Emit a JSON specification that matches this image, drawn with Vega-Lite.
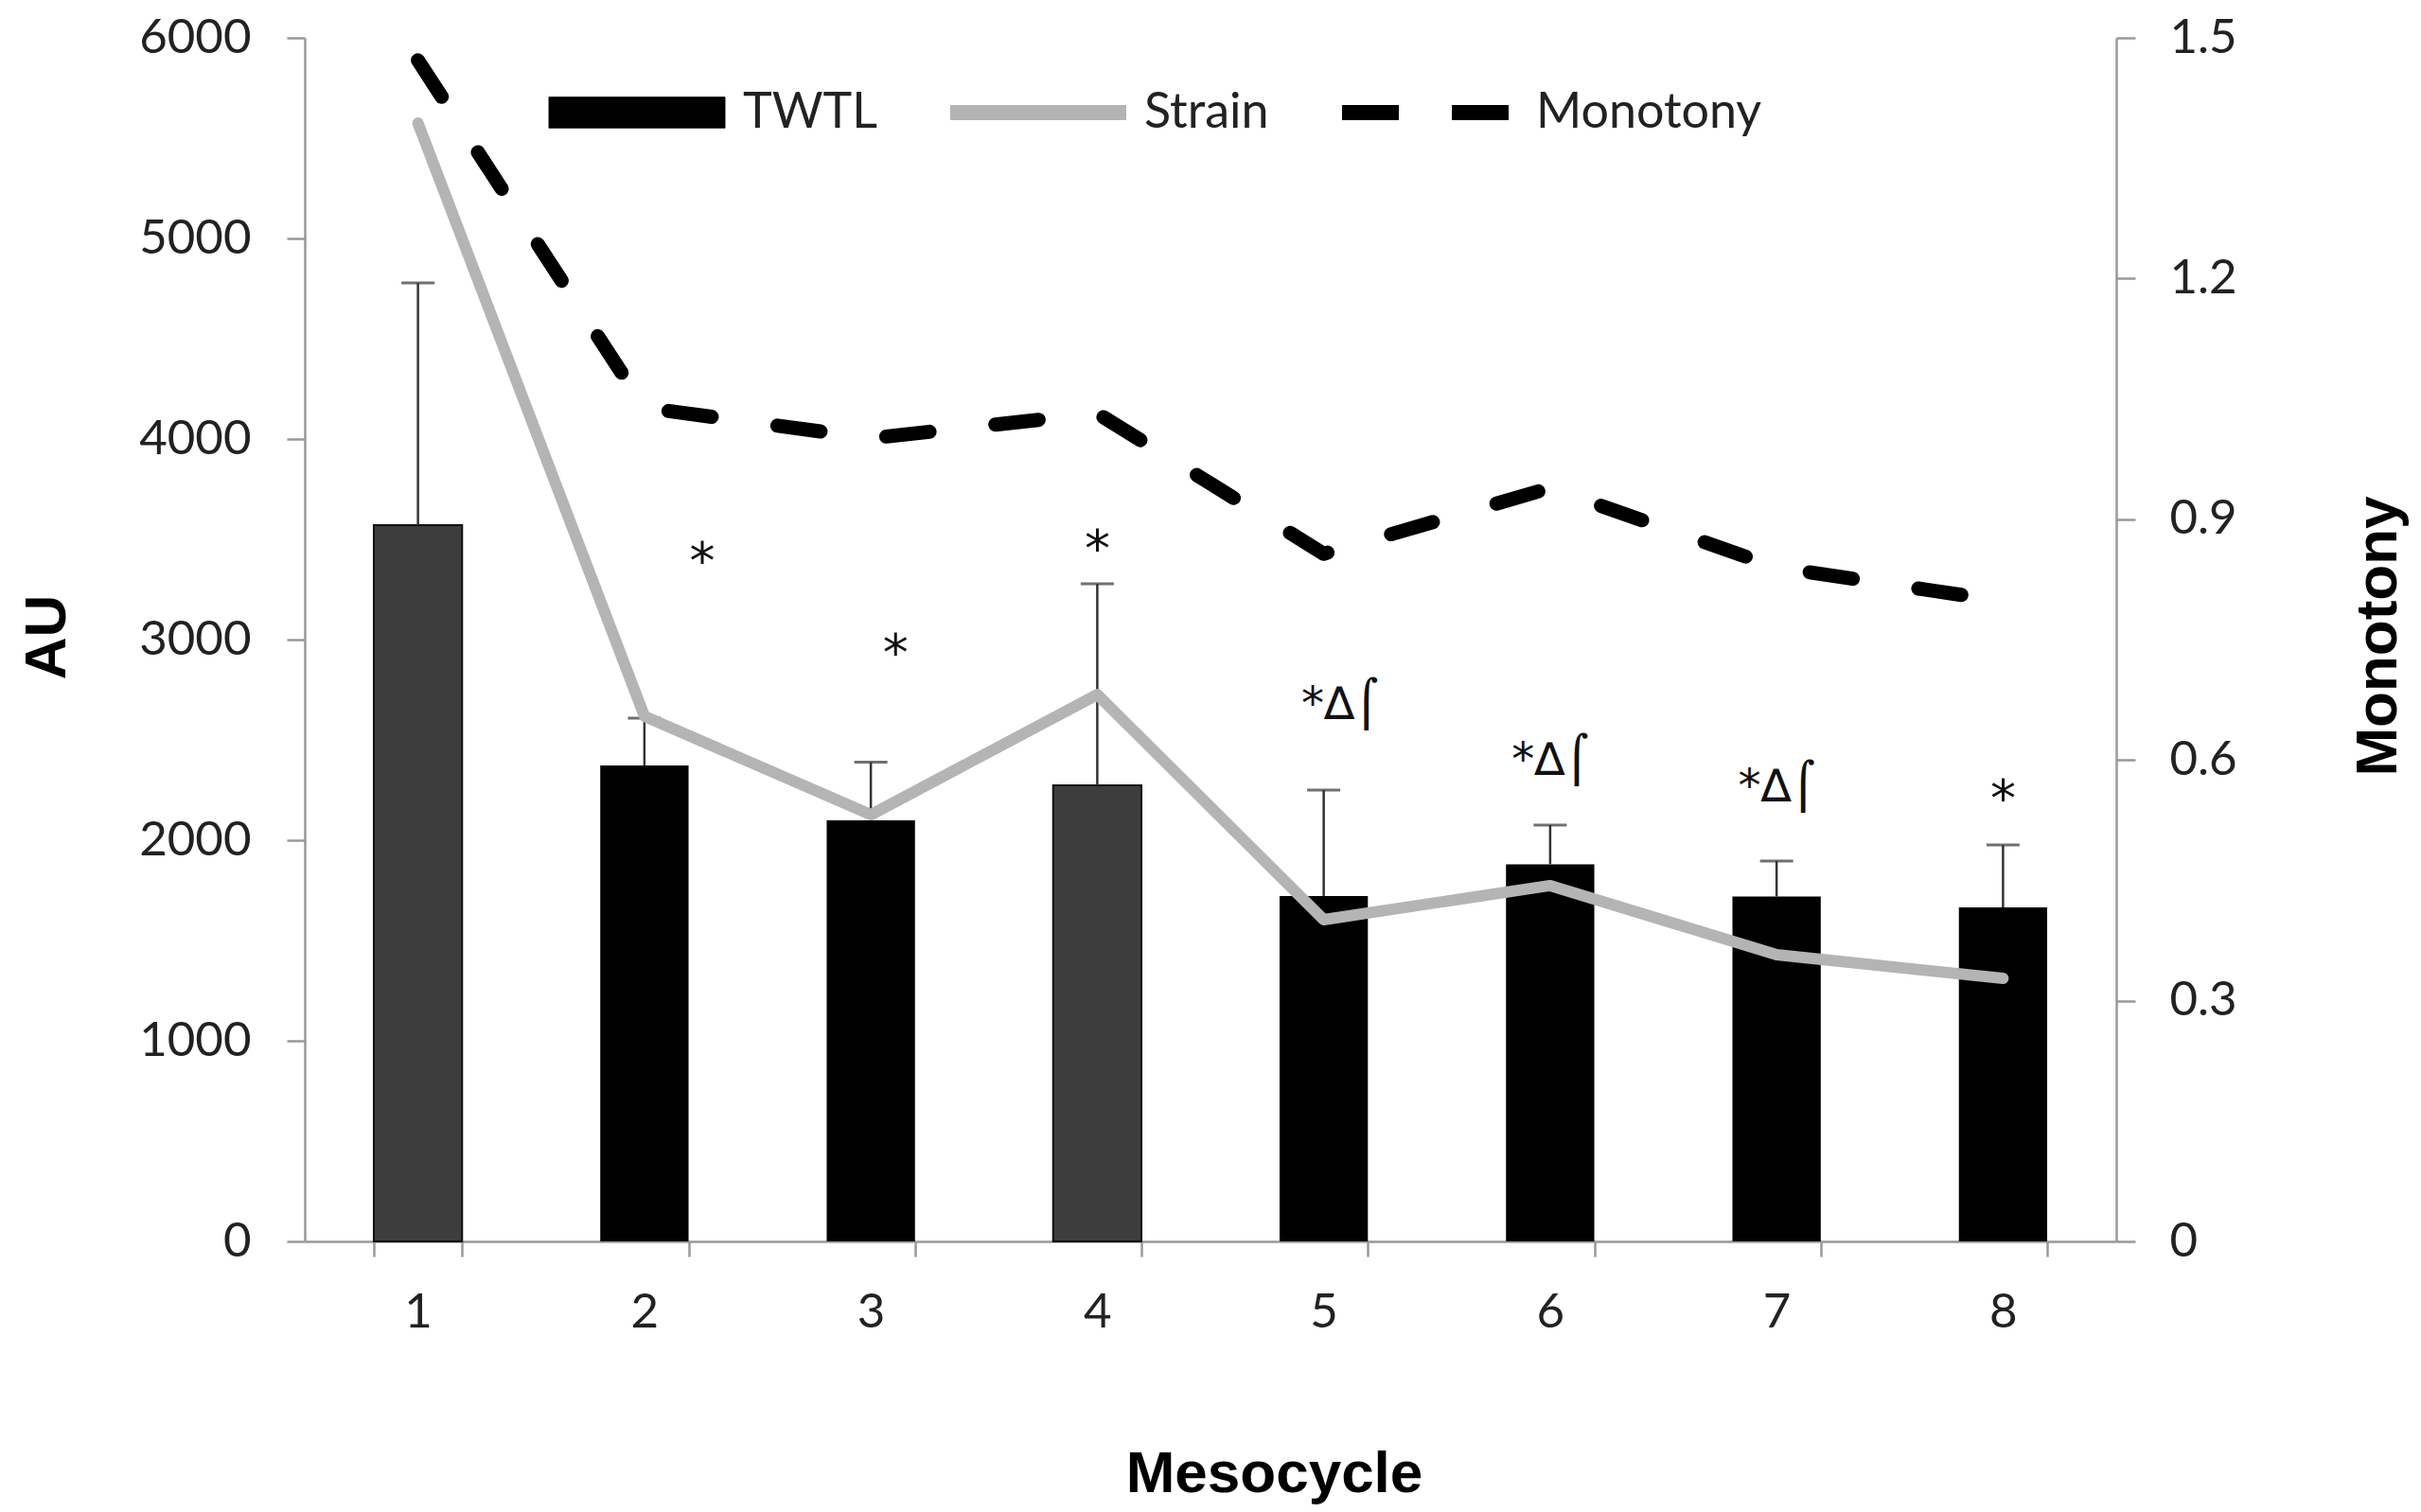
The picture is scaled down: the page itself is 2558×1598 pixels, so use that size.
{
  "$schema": "https://vega.github.io/schema/vega-lite/v6.json",
  "width": 1914,
  "height": 1272,
  "autosize": "none",
  "padding": {"left": 322, "top": 40, "right": 322, "bottom": 286},
  "background": "white",
  "config": {"view": {"stroke": null}, "font": "Lato"},
  "data": {
    "values": [
      {"mesocycle": 1, "twtl": 3571, "upper": 4778, "strain": 5575, "monotony": 1.472, "note": null, "note_y": null},
      {"mesocycle": 2, "twtl": 2373, "upper": 2608, "strain": 2618, "monotony": 1.039, "note": "*", "note_y": 3307},
      {"mesocycle": 3, "twtl": 2099, "upper": 2389, "strain": 2127, "monotony": 1.001, "note": "*", "note_y": 2849},
      {"mesocycle": 4, "twtl": 2274, "upper": 3278, "strain": 2726, "monotony": 1.032, "note": "*", "note_y": 3368},
      {"mesocycle": 5, "twtl": 1722, "upper": 2250, "strain": 1604, "monotony": 0.857, "note": "*∆⌠", "note_y": 2604},
      {"mesocycle": 6, "twtl": 1880, "upper": 2075, "strain": 1774, "monotony": 0.939, "note": "*∆⌠", "note_y": 2325},
      {"mesocycle": 7, "twtl": 1719, "upper": 1896, "strain": 1429, "monotony": 0.840, "note": "*∆⌠", "note_y": 2193},
      {"mesocycle": 8, "twtl": 1665, "upper": 1976, "strain": 1311, "monotony": 0.798, "note": "*", "note_y": 2123}
    ]
  },
  "layer": [
    {
      "encoding": {
        "x": {
          "field": "mesocycle",
          "type": "ordinal",
          "scale": {"paddingInner": 0.61, "paddingOuter": 0.305},
          "axis": {
            "title": "Mesocycle",
            "titleFont": "Liberation Sans",
            "titleFontSize": 62,
            "titleFontWeight": "bold",
            "titleColor": "#000",
            "titleX": 1024,
            "titleY": 264,
            "titleBaseline": "alphabetic",
            "titleAlign": "center",
            "labelAngle": 0,
            "tickBand": "extent",
            "tickSize": 16,
            "tickColor": "#999",
            "tickWidth": 2.5,
            "domainColor": "#999",
            "domainWidth": 2.5,
            "labelFont": "Lato",
            "labelFontSize": 51,
            "labelColor": "#222",
            "labelPadding": 34
          }
        }
      },
      "layer": [
        {
          "mark": {"type": "bar"},
          "encoding": {
            "y": {
              "field": "twtl",
              "type": "quantitative",
              "scale": {"domain": [0, 6000]},
              "axis": {
                "values": [0, 1000, 2000, 3000, 4000, 5000, 6000],
                "format": "d",
                "title": "AU",
                "titleFont": "Liberation Sans",
                "titleFontSize": 62,
                "titleFontWeight": "bold",
                "titleColor": "#000",
                "titleAngle": 270,
                "titleX": -254,
                "titleY": 633,
                "titleBaseline": "alphabetic",
                "titleAlign": "center",
                "grid": false,
                "domainColor": "#999",
                "domainWidth": 2.5,
                "tickColor": "#999",
                "tickWidth": 2.5,
                "tickSize": 19,
                "labelFont": "Lato",
                "labelFontSize": 51,
                "labelColor": "#222",
                "labelPadding": 38
              }
            },
            "color": {
              "datum": "TWTL",
              "scale": {"domain": ["TWTL", "Strain", "Monotony"], "range": ["#000000", "#b4b4b4", "#000000"]},
              "legend": {
                "orient": "none",
                "legendX": 325,
                "legendY": 53,
                "direction": "horizontal",
                "gridAlign": "none",
                "title": null,
                "labelFont": "Lato",
                "labelFontSize": 52,
                "labelColor": "#222",
                "labelLimit": 500,
                "labelOffset": 86,
                "columnPadding": 45,
                "symbolSize": 34596,
                "symbolOpacity": 1,
                "symbolType": {"expr": "datum.value === 'TWTL' ? 'M-1,-0.175H1V0.175H-1Z' : 'M-1,0H1'"},
                "symbolStrokeColor": {"expr": "datum.value === 'Strain' ? '#b4b4b4' : '#000000'"},
                "symbolStrokeWidth": {"expr": "datum.value === 'TWTL' ? 1 : 16"},
                "symbolDash": {"expr": "datum.value === 'Monotony' ? [60, 56] : [1, 0]"}
              }
            }
          }
        },
        {
          "transform": [{"filter": "datum.mesocycle == 1 || datum.mesocycle == 4"}],
          "mark": {"type": "bar", "fill": "#3d3d3d", "stroke": "#111", "strokeWidth": 2},
          "encoding": {"y": {"field": "twtl", "type": "quantitative"}}
        },
        {
          "mark": {"type": "rule", "color": "#333", "strokeWidth": 2.5},
          "encoding": {
            "y": {"field": "twtl", "type": "quantitative"},
            "y2": {"field": "upper"}
          }
        },
        {
          "mark": {"type": "tick", "color": "#333", "size": 35, "thickness": 3},
          "encoding": {"y": {"field": "upper", "type": "quantitative"}}
        },
        {
          "mark": {"type": "line", "strokeWidth": 12, "strokeCap": "round", "strokeJoin": "round"},
          "encoding": {
            "y": {"field": "strain", "type": "quantitative"},
            "color": {"datum": "Strain"}
          }
        },
        {
          "transform": [{"filter": "datum.mesocycle == 2"}],
          "mark": {"type": "text", "font": "DejaVu Sans", "fontSize": 54, "baseline": "alphabetic", "align": "center", "color": "#111", "dx": 61},
          "encoding": {"y": {"field": "note_y", "type": "quantitative"}, "text": {"field": "note"}}
        },
        {
          "transform": [{"filter": "datum.mesocycle == 3"}],
          "mark": {"type": "text", "font": "DejaVu Sans", "fontSize": 54, "baseline": "alphabetic", "align": "center", "color": "#111", "dx": 26},
          "encoding": {"y": {"field": "note_y", "type": "quantitative"}, "text": {"field": "note"}}
        },
        {
          "transform": [{"filter": "datum.mesocycle == 4 || datum.mesocycle == 8"}],
          "mark": {"type": "text", "font": "DejaVu Sans", "fontSize": 54, "baseline": "alphabetic", "align": "center", "color": "#111"},
          "encoding": {"y": {"field": "note_y", "type": "quantitative"}, "text": {"field": "note"}}
        },
        {
          "transform": [{"filter": "datum.mesocycle == 5"}],
          "mark": {"type": "text", "font": "DejaVu Sans", "fontSize": 48, "baseline": "alphabetic", "align": "center", "color": "#111", "dx": 17},
          "encoding": {"y": {"field": "note_y", "type": "quantitative"}, "text": {"field": "note"}}
        },
        {
          "transform": [{"filter": "datum.mesocycle == 6 || datum.mesocycle == 7"}],
          "mark": {"type": "text", "font": "DejaVu Sans", "fontSize": 48, "baseline": "alphabetic", "align": "center", "color": "#111"},
          "encoding": {"y": {"field": "note_y", "type": "quantitative"}, "text": {"field": "note"}}
        }
      ]
    },
    {
      "mark": {"type": "line", "strokeWidth": 15, "strokeDash": [46, 70], "strokeCap": "round", "strokeJoin": "round"},
      "encoding": {
        "x": {"field": "mesocycle", "type": "ordinal"},
        "y": {
          "field": "monotony",
          "type": "quantitative",
          "scale": {"domain": [0, 1.5]},
          "axis": {
            "orient": "right",
            "values": [0, 0.3, 0.6, 0.9, 1.2, 1.5],
            "labelExpr": "datum.value == 0 ? '0' : format(datum.value, '.1f')",
            "title": "Monotony",
            "titleFont": "Liberation Sans",
            "titleFontSize": 62,
            "titleFontWeight": "bold",
            "titleColor": "#000",
            "titleAngle": 270,
            "titleX": 295,
            "titleY": 632,
            "titleBaseline": "alphabetic",
            "titleAlign": "center",
            "grid": false,
            "domainColor": "#999",
            "domainWidth": 2.5,
            "tickColor": "#999",
            "tickWidth": 2.5,
            "tickSize": 20,
            "labelFont": "Lato",
            "labelFontSize": 51,
            "labelColor": "#222",
            "labelPadding": 36
          }
        },
        "color": {"datum": "Monotony"}
      }
    }
  ],
  "resolve": {"scale": {"y": "independent"}}
}
